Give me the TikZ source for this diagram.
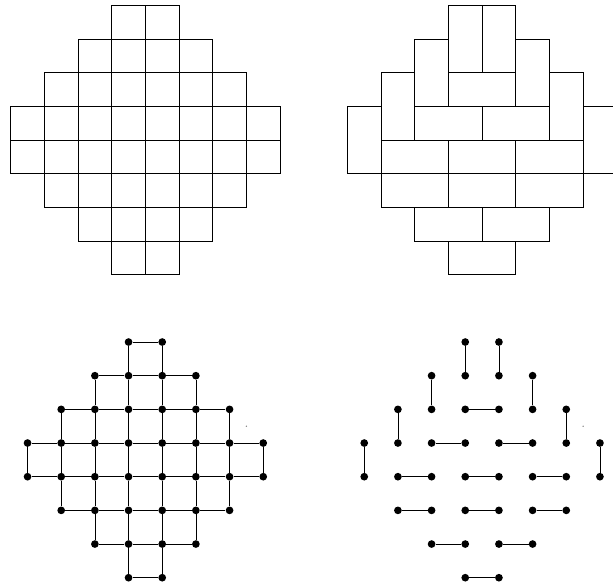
\documentclass[tikz,border=0pt]{standalone}
\begin{document}
\begin{tikzpicture}[x=1cm,y=1cm,
  cell/.style={draw=black, line width=0.6pt},
  dot/.style={circle, fill=black, inner sep=0pt, minimum size=6.5pt},
  link/.style={draw=black, line width=0.6pt},
  speck/.style={circle, fill=gray, inner sep=0pt, minimum size=1.2pt}]
\useasboundingbox (0,0) rectangle (18.206,-17.404);
% top-left: Aztec diamond of squares
\begin{scope}[shift={(0.318,-0.158)}]
  \foreach \r/\a/\b in {0/3/4,1/2/5,2/1/6,3/0/7,4/0/7,5/1/6,6/2/5,7/3/4}{
    \foreach \c in {\a,...,\b}{\draw[cell] (\c,-\r) rectangle ++(1,-1);}}
\end{scope}
% top-right: domino tiling
\begin{scope}[shift={(10.318,-0.158)}]
  \foreach \c/\r/\w/\h in {3/0/1/2,4/0/1/2,2/1/1/2,5/1/1/2,1/2/1/2,6/2/1/2,0/3/1/2,7/3/1/2,
    3/2/2/1,2/3/2/1,4/3/2/1,1/4/2/1,3/4/2/1,5/4/2/1,1/5/2/1,3/5/2/1,5/5/2/1,2/6/2/1,4/6/2/1,3/7/2/1}{
    \draw[cell] (\c,-\r) rectangle ++(\w,-\h);}
\end{scope}
% bottom-left: grid graph
\begin{scope}[shift={(0.318,-9.658)}]
  \foreach \r/\a/\b in {0/3/4,1/2/5,2/1/6,3/0/7,4/0/7,5/1/6,6/2/5,7/3/4}{
    \foreach \c in {\a,...,\b}{\node[dot] (L-\c-\r) at (\c+0.5,-\r-0.5) {};}}
  \foreach \r/\a/\b in {0/3/4,1/2/5,2/1/6,3/0/7,4/0/7,5/1/6,6/2/5,7/3/4}{
    \pgfmathtruncatemacro\bm{\b-1}
    \foreach \c in {\a,...,\bm}{
      \pgfmathtruncatemacro\d{\c+1}
      \draw[link] (L-\c-\r) -- (L-\d-\r);}}
  \foreach \r/\a/\b in {0/3/4,1/2/5,2/1/6,3/0/7,4/1/6,5/2/5,6/3/4}{
    \pgfmathtruncatemacro\s{\r+1}
    \foreach \c in {\a,...,\b}{\draw[link] (L-\c-\r) -- (L-\c-\s);}}
  \node[speck] (Lspeck) at (7,-3) {};
\end{scope}
% bottom-right: perfect matching
\begin{scope}[shift={(10.318,-9.658)}]
  \foreach \r/\a/\b in {0/3/4,1/2/5,2/1/6,3/0/7,4/0/7,5/1/6,6/2/5,7/3/4}{
    \foreach \c in {\a,...,\b}{\node[dot] (R-\c-\r) at (\c+0.5,-\r-0.5) {};}}
  \foreach \c/\r in {3/0,4/0,2/1,5/1,1/2,6/2,0/3,7/3}{
    \pgfmathtruncatemacro\s{\r+1}
    \draw[link] (R-\c-\r) -- (R-\c-\s);}
  \foreach \c/\r in {3/2,2/3,4/3,1/4,3/4,5/4,1/5,3/5,5/5,2/6,4/6,3/7}{
    \pgfmathtruncatemacro\d{\c+1}
    \draw[link] (R-\c-\r) -- (R-\d-\r);}
  \node[speck] (Rspeck) at (7,-3) {};
\end{scope}
\end{tikzpicture}
\end{document}
